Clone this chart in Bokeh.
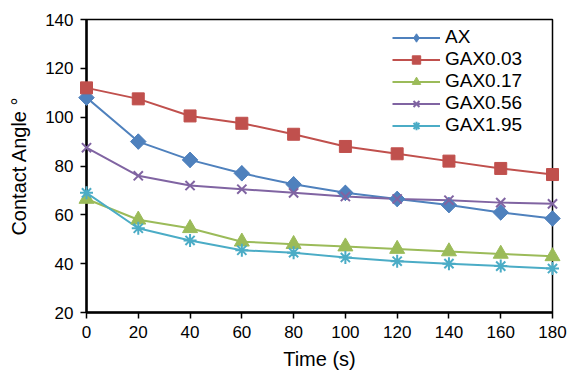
import math
from bokeh.plotting import figure
from bokeh.models import Range1d, Legend, LegendItem, FixedTicker
from bokeh.embed import file_html
from bokeh.resources import INLINE

time_s = [0, 20, 40, 60, 80, 100, 120, 140, 160, 180]
ax = [108, 90, 82.5, 77, 72.5, 69, 66.5, 64, 61, 58.5]
gax003 = [112, 107.5, 100.5, 97.5, 93, 88, 85, 82, 79, 76.5]
gax017 = [66.5, 58, 54.5, 49, 48, 47, 46, 45, 44, 43]
gax056 = [87.5, 76, 72, 70.5, 69, 67.5, 66.5, 66, 65, 64.5]
gax195 = [69, 54.5, 49.5, 45.5, 44.5, 42.5, 41, 40, 39, 38]
series_names = ["AX", "GAX0.03", "GAX0.17", "GAX0.56", "GAX1.95"]
x_ticks = [0, 20, 40, 60, 80, 100, 120, 140, 160, 180]
y_ticks = [20, 40, 60, 80, 100, 120, 140]

FONT = "Liberation Sans"

p = figure(width=568, height=372, output_backend="svg", toolbar_location=None,
           x_range=Range1d(0, 180), y_range=Range1d(20, 140),
           min_border_left=86, min_border_right=16, min_border_top=19, min_border_bottom=60)
p.background_fill_color = "white"
p.border_fill_color = "white"
p.outline_line_color = "black"
p.outline_line_width = 1.5
p.xgrid.visible = False
p.ygrid.visible = False

for a in (p.xaxis[0], p.yaxis[0]):
    a.axis_line_color = "black"
    a.axis_line_width = 2.5
    a.major_tick_line_color = "black"
    a.major_tick_line_width = 1.5
    a.major_tick_out = 6
    a.major_tick_in = 0
    a.minor_tick_line_color = None
    a.major_label_text_font = FONT
    a.major_label_text_font_size = "17px"
    a.major_label_text_color = "black"
    a.axis_label_text_font = FONT
    a.axis_label_text_font_size = "20px"
    a.axis_label_text_font_style = "normal"
    a.axis_label_text_color = "black"

p.xaxis.ticker = FixedTicker(ticks=x_ticks)
p.yaxis.ticker = FixedTicker(ticks=y_ticks)
p.xaxis.axis_label = "Time (s)"
p.yaxis.axis_label = "Contact Angle °"
p.xaxis.major_label_standoff = 7
p.yaxis.major_label_standoff = 7
p.xaxis.axis_label_standoff = 7
p.yaxis.axis_label_standoff = 12

colors = ["#4F81BD", "#C0504D", "#9BBB59", "#8064A2", "#4BACC6"]
markers = ["square", "square", "triangle", "x", "asterisk"]
legend_markers = ["diamond", "square", "triangle", "x", "asterisk"]
angles = [math.pi / 4, 0, 0, 0, 0]
sizes = [11, 12, 15, 13, 13]
legend_sizes = [15, 12, 15, 13, 13]
data = [ax, gax003, gax017, gax056, gax195]

items = []
for name, ys, c, m, lm, s, ls, ang in zip(series_names, data, colors, markers,
                                          legend_markers, sizes, legend_sizes, angles):
    l = p.line(time_s, ys, line_color=c, line_width=2)
    leg_sc = None
    if lm != m:
        # diamond glyph drawn underneath (hidden by the rotated square), used for the legend
        leg_sc = p.scatter(time_s, ys, marker=lm, size=ls, line_color=c, fill_color=c,
                           line_width=1, level="overlay")
    if m in ("x", "asterisk"):
        sc = p.scatter(time_s, ys, marker=m, size=s, line_color=c, line_width=2, fill_color=None, level="overlay")
    else:
        sc = p.scatter(time_s, ys, marker=m, size=s, angle=ang, line_color=c, fill_color=c, line_width=1, level="overlay")
    items.append(LegendItem(label=name, renderers=[l, leg_sc if leg_sc is not None else sc]))

legend = Legend(items=items, location=(306, 176))
legend.border_line_color = None
legend.background_fill_alpha = 0
legend.label_text_font = FONT
legend.label_text_font_size = "19px"
legend.label_text_color = "black"
legend.glyph_width = 48
legend.glyph_height = 21
legend.label_height = 21
legend.label_standoff = 5
legend.spacing = 0
legend.padding = 0
legend.margin = 0
p.add_layout(legend, "center")

open("out.html", "w").write(file_html(p, INLINE))
